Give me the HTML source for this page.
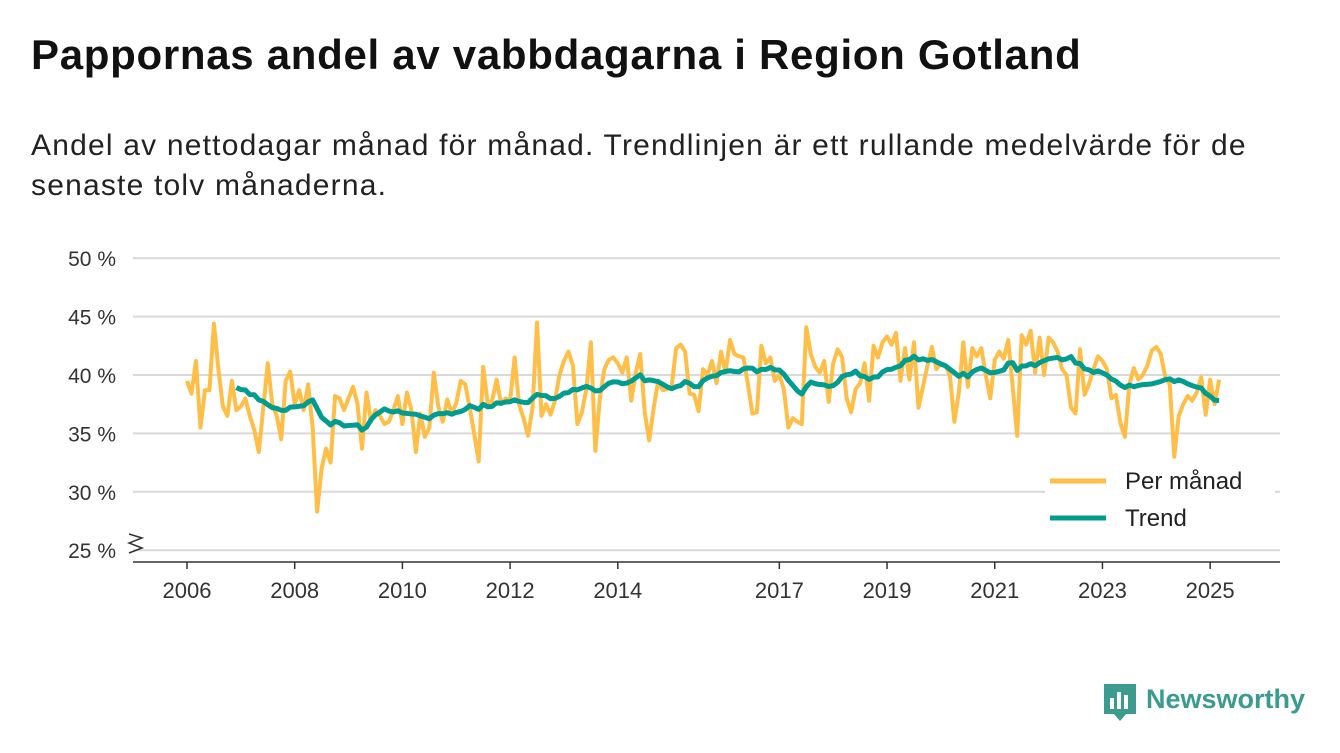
<!DOCTYPE html>
<html><head><meta charset="utf-8">
<style>
body{margin:0;width:1340px;height:753px;background:#fff;font-family:"Liberation Sans",sans-serif;overflow:hidden;position:relative;color:#111}
h1{position:absolute;left:31px;top:31px;margin:0;font-size:42px;font-weight:bold;letter-spacing:0.7px;white-space:nowrap}
p{position:absolute;left:31px;top:126px;margin:0;font-size:30px;line-height:40px;width:1300px;color:#222;white-space:nowrap;letter-spacing:1.2px}
svg{position:absolute;left:0;top:0}
</style></head><body>
<h1>Pappornas andel av vabbdagarna i Region Gotland</h1>
<p>Andel av nettodagar månad för månad. Trendlinjen är ett rullande medelvärde för de<br>senaste tolv månaderna.</p>
<svg id="chart" width="1340" height="753"></svg>
<script>
const monthly = [
39.5,38.4,41.2,35.5,38.7,38.7,44.4,40.5,37.3,36.5,39.5,37.0,
37.3,38.0,36.5,35.3,33.4,37.2,41.0,37.5,36.5,34.5,39.5,40.3,
37.5,38.7,37.0,39.2,35.5,28.3,32.0,33.7,32.5,38.2,38.0,37.0,
38.0,39.0,37.5,33.7,38.5,36.0,37.0,36.5,35.8,36.0,37.0,38.2,
35.8,38.5,37.0,33.4,36.7,34.7,35.5,40.2,37.3,36.0,37.9,36.7,
37.6,39.5,39.2,37.2,35.0,32.6,40.7,37.6,37.8,39.6,37.5,38.0,
37.8,41.5,37.5,36.3,34.8,37.2,44.5,36.5,37.5,36.6,37.8,40.0,
41.2,42.0,40.8,35.8,36.8,38.8,42.8,33.5,38.0,40.5,41.3,41.5,
41.0,40.2,41.5,37.8,40.2,41.8,36.8,34.4,37.2,39.5,38.7,38.8,
39.0,42.3,42.6,42.0,38.4,38.3,36.9,40.5,40.0,41.2,39.3,42.0,
40.2,43.0,41.8,41.6,41.5,39.2,36.7,36.8,42.5,41.0,41.5,39.5,
40.0,38.8,35.5,36.3,36.0,35.8,44.1,41.8,40.7,40.2,41.2,37.7,
41.0,42.2,41.5,38.0,36.8,38.8,39.3,41.0,37.8,42.5,41.5,42.8,
43.3,42.6,43.6,39.5,42.3,39.6,42.8,37.2,39.0,40.8,42.4,40.5,
41.0,40.8,40.0,36.0,38.5,42.8,39.0,42.3,41.6,42.3,40.0,38.0,
41.3,42.0,41.4,43.0,39.0,34.8,43.4,42.6,43.8,40.2,43.2,40.0,
43.2,42.8,42.0,40.5,40.0,37.2,36.7,42.2,38.3,39.2,40.5,41.6,
41.2,40.5,38.0,38.3,35.9,34.7,39.2,40.6,39.6,40.0,40.8,42.1,
42.4,41.8,39.8,39.2,33.0,36.5,37.5,38.2,37.8,38.5,39.8,36.6,
39.6,37.5,39.6];
const startYear = 2006;
const yTicks = [25,30,35,40,45,50];
const xTickYears = [2006,2008,2010,2012,2014,2017,2019,2021,2023,2025];
const NS='http://www.w3.org/2000/svg';
const svg=document.getElementById('chart');
const x=t=>187+(t-2006)*53.85;
const y=v=>375-(v-40)*11.68;
function mk(tag,attrs,parent){const e=document.createElementNS(NS,tag);for(const k in attrs)e.setAttribute(k,attrs[k]);(parent||svg).appendChild(e);return e;}
yTicks.forEach(v=>{
  const g=mk('line',{x1:133,x2:1280,y1:y(v),y2:y(v),stroke:'#d9d9d9','stroke-width':2});
  
  
  const t=mk('text',{x:116,y:y(v)+8,'text-anchor':'end','font-size':21,fill:'#333','font-family':'Liberation Sans'});
  t.textContent=v+' %';
  
  
});
const ax=mk('line',{x1:133,x2:1280,y1:562,y2:562,stroke:'#333','stroke-width':1.5});


const br=mk('path',{d:'M129,534 L142,538 L129,543 L142,548 L129,553',fill:'none',stroke:'#333','stroke-width':1.5});


xTickYears.forEach(yr=>{
  const l=mk('line',{x1:x(yr),x2:x(yr),y1:562,y2:569,stroke:'#333','stroke-width':1.5});
  
  
  const t=mk('text',{x:x(yr),y:598,'text-anchor':'middle','font-size':22,fill:'#333','font-family':'Liberation Sans'});
  t.textContent=yr;
  
  
});
const pts=monthly.map((v,i)=>[x(startYear+i/12),y(v)]);
const p1=mk('polyline',{points:pts.map(p=>p.join(',')).join(' '),fill:'none',stroke:'#ffbe47','stroke-width':4,'stroke-linejoin':'round'});


const tr=[];
for(let i=11;i<monthly.length;i++){let s=0;for(let j=i-11;j<=i;j++)s+=monthly[j];tr.push([x(startYear+i/12),y(s/12)]);}
const p2=mk('polyline',{points:tr.map(p=>p.join(',')).join(' '),fill:'none',stroke:'#009c8f','stroke-width':5,'stroke-linejoin':'round'});


const lg=mk('g',{});


mk('rect',{x:1045,y:463,width:230,height:73,fill:'#fff'},lg);
mk('line',{x1:1050,x2:1106,y1:481,y2:481,stroke:'#ffbe47','stroke-width':5},lg);
mk('line',{x1:1050,x2:1106,y1:518,y2:518,stroke:'#009c8f','stroke-width':5},lg);
const l1=mk('text',{x:1125,y:489,'font-size':24,fill:'#222','font-family':'Liberation Sans'},lg);l1.textContent='Per månad';


const l2=mk('text',{x:1125,y:526,'font-size':24,fill:'#222','font-family':'Liberation Sans'},lg);l2.textContent='Trend';


const logo=mk('g',{});


mk('path',{d:'M1104,684 h32 v30 h-10 l-6,7 l-6,-7 h-10 z',fill:'#3a9b8e'},logo);
mk('rect',{x:1110,y:698,width:4,height:11,fill:'#fff'},logo);
mk('rect',{x:1117,y:692,width:4,height:17,fill:'#fff'},logo);
mk('rect',{x:1124,y:695,width:4,height:14,fill:'#fff'},logo);
const lt=mk('text',{x:1146,y:708,'font-size':27,'font-weight':'bold',fill:'#3a9b8e','font-family':'Liberation Sans'},logo);lt.textContent='Newsworthy';
</script>
</body></html>
